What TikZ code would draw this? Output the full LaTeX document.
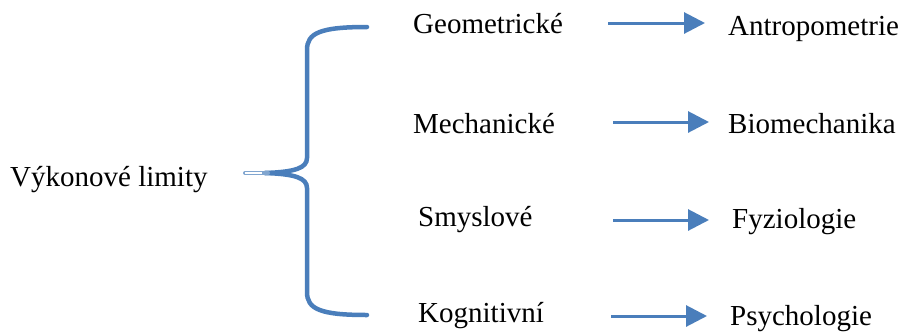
\documentclass[tikz,border=0pt]{standalone}
\usepackage{fontspec}
\setmainfont{Liberation Serif}
\usetikzlibrary{arrows.meta}
\definecolor{bblue}{RGB}{74,126,187}
\tikzset{
  lbl/.style={anchor=base west, inner sep=0pt, font=\fontsize{29}{33}\selectfont, text=black},
  arr/.style={bblue, line width=3pt, -{Triangle[length=21pt,width=21pt]}},
  bracel/.style={bblue, line width=4.5pt, line cap=round}
}
\begin{document}
\begin{tikzpicture}[x=1pt,y=-1pt]
\useasboundingbox (0,0) rectangle (905,333);
\node[lbl] (v) at (10,186) {Výkonové limity};
\node[lbl] (g) at (413,33) {Geometrické};
\node[lbl] (m) at (413,133) {Mechanické};
\node[lbl] (s) at (418,226) {Smyslové};
\node[lbl] (k) at (418,322) {Kognitivní};
\node[lbl] (a) at (728,35) {Antropometrie};
\node[lbl] (b) at (728,133) {Biomechanika};
\node[lbl] (f) at (732,228) {Fyziologie};
\node[lbl] (p) at (730,325) {Psychologie};
\coordinate (tip) at (245,173);
\coordinate (g0) at (608,23);
\coordinate (m0) at (613,122);
\coordinate (s0) at (613,220);
\coordinate (k0) at (611,316);
\draw[bracel] (367,27) .. controls (320,27) and (307,33) .. (307,50) -- (307,158)
  .. controls (307,168) and (295,172) .. (265,173);
\draw[bracel] (367,315) .. controls (320,315) and (307,309) .. (307,292) -- (307,188)
  .. controls (307,178) and (295,174) .. (265,173);
\draw[bblue!70, line width=4pt, line cap=round] (tip) -- (268,173);
\draw[white, line width=1.6pt] (tip) -- (262,173);
\draw[arr, shorten >=23pt] (g0) -- (g0 -| a.west);
\draw[arr, shorten >=19pt] (m0) -- (m0 -| b.west);
\draw[arr, shorten >=23pt] (s0) -- (s0 -| f.west);
\draw[arr, shorten >=23pt] (k0) -- (k0 -| p.west);
\end{tikzpicture}
\end{document}
